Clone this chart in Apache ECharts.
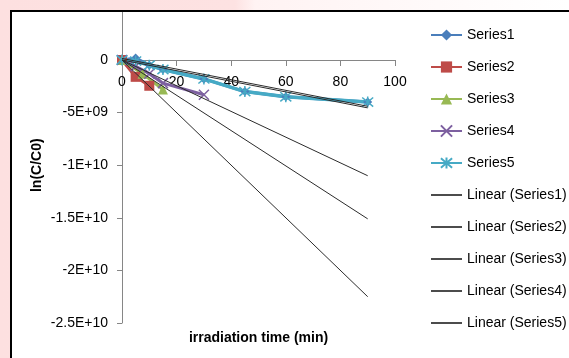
<!DOCTYPE html>
<html><head><meta charset="utf-8">
<script src="https://cdn.jsdelivr.net/npm/echarts@6/dist/echarts.min.js"></script>
<style>
html,body{margin:0;padding:0;width:569px;height:358px;overflow:hidden;background:linear-gradient(to right,#fde0e0 0,#fde2e2 235px,#fff3f3 255px,#ffffff 100%);}
#frame{position:absolute;left:10px;top:10px;width:600px;height:400px;border:2px solid #000;background:#fff;overflow:hidden;}
#chart{position:absolute;left:-12px;top:-12px;width:569px;height:358px;}
</style></head><body>
<div id="frame"><div id="chart"></div></div>
<script>
// ---- data ----
const seriesNames = ['Series1','Series2','Series3','Series4','Series5'];
const trendNames = ['Linear (Series1)','Linear (Series2)','Linear (Series3)','Linear (Series4)','Linear (Series5)'];

const s1x = [0, 5, 10, 15, 30, 45, 60, 90];
const s1y = [0, 0.2e9, -0.5e9, -0.9e9, -1.8e9, -3.0e9, -3.5e9, -4.0e9];
const s2x = [0, 5, 10];
const s2y = [0, -1.6e9, -2.45e9];
const s3x = [0, 7.5, 15];
const s3y = [0, -1.3e9, -2.8e9];
const s4x = [0, 5, 10, 15, 30];
const s4y = [0, -0.6e9, -1.3e9, -2.2e9, -3.3e9];
const s5x = [0, 5, 10, 15, 30, 45, 60, 90];
const s5y = [0, -0.1e9, -0.5e9, -0.9e9, -1.8e9, -3.0e9, -3.5e9, -4.0e9];

// trendline endpoints (x from trendX[0] to trendX[1])
const trendX = [0, 90];
const trendStart = [0.15e9, 0, 0, 0, 0];
const trendEnd = [-4.4e9, -2.25e10, -1.51e10, -1.10e10, -4.55e9];

const xTickLabels = ['0','20','40','60','80','100'];
const yTickValues = [5e9, 0, -5e9, -1e10, -1.5e10, -2e10, -2.5e10];
const yTickLabels = ['5E+09','0','-5E+09','-1E+10','-1.5E+10','-2E+10','-2.5E+10'];

// ---- styles ----
const colors = ['#4A7EBB','#BE4B48','#98B954','#7D60A0','#46AAC5'];
const symbols = ['diamond','rect','triangle',
  'path://M0,0L10,10M10,0L0,10',
  'path://M0,0L10,10M10,0L0,10M5,-1L5,11'];
const symbolSizes = [9, 10, 10, 10, 11];
const font = 'Liberation Sans';

const xs = [s1x,s2x,s3x,s4x,s5x];
const ys = [s1y,s2y,s3y,s4y,s5y];

const series = [];
for (let i = 0; i < 5; i++) {
  const stroke = i >= 3;
  series.push({
    name: seriesNames[i], type: 'line',
    data: xs[i].map((x, k) => [x, ys[i][k]]),
    symbol: symbols[i], symbolSize: symbolSizes[i],
    lineStyle: {color: colors[i], width: i === 4 ? 3.5 : 3},
    itemStyle: {color: stroke ? 'rgba(0,0,0,0)' : colors[i], borderColor: colors[i], borderWidth: stroke ? 1.5 : 0},
    emphasis: {disabled: true}, z: 2
  });
}
for (let i = 0; i < 5; i++) {
  series.push({
    name: trendNames[i], type: 'line',
    data: [[trendX[0], trendStart[i]], [trendX[1], trendEnd[i]]],
    symbol: 'none', showSymbol: false,
    lineStyle: {color: '#2b2b2b', width: 1},
    itemStyle: {color: '#2b2b2b'},
    emphasis: {disabled: true}, z: 3
  });
}

const legendData = seriesNames.map(n => ({name: n})).concat(
  trendNames.map(n => ({name: n, icon: 'path://M0,0H31V1.5H0Z', itemStyle: {color: '#111', borderWidth: 0}})));

const chart = echarts.init(document.getElementById('chart'), null, {renderer: 'canvas'});
chart.setOption({
  animation: false,
  backgroundColor: 'transparent',
  textStyle: {fontFamily: font},
  grid: {left: 122, right: 174, top: 7.4, bottom: 35, containLabel: false, outerBoundsMode: 'none'},
  xAxis: {
    type: 'value', min: 0, max: 100, interval: 20,
    position: 'bottom', offset: -263,
    axisLine: {onZero: false, lineStyle: {color: '#868686', width: 1}},
    axisTick: {show: true, inside: false, length: 6, lineStyle: {color: '#868686'}},
    axisLabel: {fontSize: 14, color: '#000', margin: 15, fontFamily: font,
      formatter: (v) => { const i = Math.round(v / 20); return xTickLabels[i] !== undefined ? xTickLabels[i] : ''; }},
    splitLine: {show: false},
    name: 'irradiation time (min)', nameLocation: 'middle', nameGap: 271,
    nameTextStyle: {fontSize: 14, fontWeight: 'bold', color: '#000', fontFamily: font}
  },
  yAxis: {
    type: 'value', min: -2.5e10, max: 5e9, interval: 5e9,
    axisLine: {onZero: false, lineStyle: {color: '#868686', width: 1}},
    axisTick: {show: true, inside: false, length: 5, lineStyle: {color: '#868686'}},
    axisLabel: {fontSize: 14, color: '#000', margin: 14, fontFamily: font,
      formatter: (v) => { let best = 0, d = Infinity; yTickValues.forEach((t, i) => { const e = Math.abs(t - v); if (e < d) { d = e; best = i; } }); return yTickLabels[best]; }},
    splitLine: {show: false},
    name: 'ln(C/C0)', nameLocation: 'middle', nameGap: 78, nameRotate: 90,
    nameTextStyle: {fontSize: 14, fontWeight: 'bold', color: '#000', fontFamily: font}
  },
  legend: {
    orient: 'vertical', left: 430, top: 28, padding: 0,
    itemWidth: 31, itemHeight: 14, itemGap: 18,
    textStyle: {fontSize: 14, color: '#000', fontFamily: font},
    data: legendData,
    selectedMode: false
  },
  series: series
});
</script>
</body></html>
